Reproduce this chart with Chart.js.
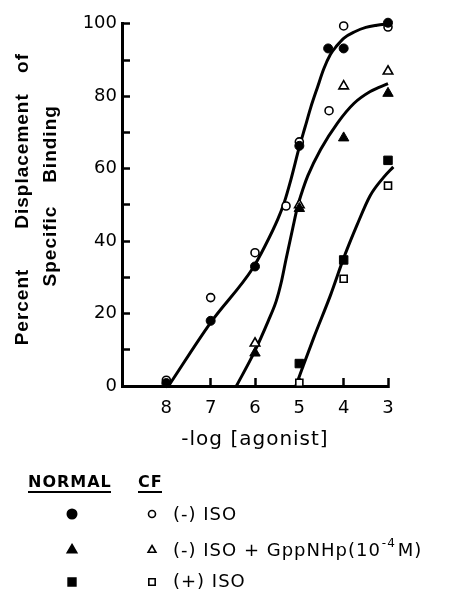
<!DOCTYPE html>
<html>
<head>
<meta charset="utf-8">
<script src="https://cdn.jsdelivr.net/npm/chart.js@4.4.1/dist/chart.umd.min.js"></script>
<style>
  body { margin: 0; background: #fff; }
  #wrap { width: 458px; height: 596px; }
</style>
</head>
<body>
<div id="wrap"><canvas id="grafico" width="458" height="596"></canvas></div>
<script>
// eixos
const xTicks = [8, 7, 6, 5, 4, 3];
const yTicks = [0, 20, 40, 60, 80, 100];
const yMinorTicks = [10, 30, 50, 70, 90];

// pontos medidos: (-) ISO
const normalIsoX = [8, 7, 6, 5, 4.35, 4, 3];
const normalIsoY = [0.8, 18, 33, 66.3, 93.2, 93.2, 100.3];
const cfIsoX = [8, 7, 6, 5.3, 5, 4.33, 4, 3];
const cfIsoY = [1.6, 24.4, 36.8, 49.7, 67.4, 76, 99.4, 99.1];

// (-) ISO + GppNHp
const normalGppX = [6, 5, 4, 3];
const normalGppY = [9.1, 49, 68.5, 80.8];
const cfGppX = [6, 5, 4, 3];
const cfGppY = [11.8, 50, 82.8, 86.9];

// (+) ISO
const normalPlusX = [5, 4, 3];
const normalPlusY = [6.2, 34.8, 62.3];
const cfPlusX = [5, 4, 3];
const cfPlusY = [0.9, 29.6, 55.3];

// curvas ajustadas
const fitIsoX = [7.95, 7, 6.05, 5.78, 5.48, 5.34, 5.19, 5.0, 4.87, 4.74, 4.59, 4.45, 4.3, 4.15, 4.0, 3.75, 3.5, 3.25, 3];
const fitIsoY = [0, 17.5, 32.5, 38.5, 46.2, 50.7, 57, 66, 71.5, 77, 82.5, 87.5, 91.5, 94, 96, 97.8, 99, 99.6, 100];
const fitGppX = [6.42, 6.03, 5.7, 5.52, 5.41, 5.3, 5.15, 5.04, 4.92, 4.81, 4.52, 4.14, 3.77, 3.4, 3];
const fitGppY = [0, 9, 18, 23.5, 28.5, 35, 43.5, 49.5, 54.3, 58, 65.3, 72.6, 78, 81.3, 83.5];
const fitPlusX = [5.08, 4.96, 4.67, 4.29, 4.0, 3.7, 3.4, 3.1, 2.88];
const fitPlusY = [0, 4, 13.5, 25.3, 35.3, 44.4, 52.6, 57.6, 60.5];

const pares = (xs, ys) => xs.map((x, i) => ({ x: x, y: ys[i] }));

function marcador(label, xs, ys, estilo, raio, cheio) {
  return {
    type: 'scatter',
    label: label,
    data: pares(xs, ys),
    pointStyle: estilo,
    pointRadius: raio,
    pointBackgroundColor: cheio ? '#000' : '#fff',
    pointBorderColor: '#000',
    pointBorderWidth: cheio ? 1 : 1.6,
    order: 0,
    clip: false
  };
}

function curva(label, xs, ys) {
  return {
    type: 'line',
    label: label,
    data: pares(xs, ys),
    borderColor: '#000',
    borderWidth: 3,
    pointRadius: 0,
    cubicInterpolationMode: 'monotone',
    fill: false,
    order: 1,
    clip: false
  };
}

// textos e legenda desenhados no canvas
const textosPlugin = {
  id: 'textos',
  afterDraw(chart) {
    const ctx = chart.ctx;
    ctx.save();
    ctx.fillStyle = '#000';
    ctx.strokeStyle = '#000';

    // titulo do eixo y (duas linhas, rotacionado)
    ctx.font = 'bold 19px "Liberation Sans"';
    ctx.letterSpacing = '1px';
    ctx.textAlign = 'center';
    ctx.textBaseline = 'alphabetic';
    const palavras = [
      ['Percent', 28, 307], ['Displacement', 28, 161], ['of', 28, 63],
      ['Specific', 56, 246], ['Binding', 56, 144]
    ];
    palavras.forEach(p => {
      ctx.save();
      ctx.translate(p[1], p[2]);
      ctx.rotate(-Math.PI / 2);
      ctx.fillText(p[0], 0, 0);
      ctx.restore();
    });

    // titulo do eixo x
    ctx.font = '20px "DejaVu Sans"';
    ctx.letterSpacing = '1px';
    ctx.fillText('-log [agonist]', 255, 445);

    // legenda
    ctx.textAlign = 'left';
    ctx.font = 'bold 16px "DejaVu Sans"';
    ctx.letterSpacing = '1px';
    ctx.fillText('NORMAL', 28, 487);
    ctx.fillText('CF', 138, 487);
    ctx.lineWidth = 2;
    ctx.beginPath();
    ctx.moveTo(28, 492); ctx.lineTo(111, 492);
    ctx.moveTo(138, 492); ctx.lineTo(162, 492);
    ctx.stroke();

    const linhas = [
      { estilo: 'circle', r1: 4.5, r2: 3.5, y: 514 },
      { estilo: 'triangle', r1: 5.5, r2: 4.5, y: 550 },
      { estilo: 'rect', r1: 5.5, r2: 4.5, y: 582 }
    ];
    linhas.forEach(l => {
      ctx.fillStyle = '#000';
      Chart.helpers.drawPoint(ctx, { pointStyle: l.estilo, radius: l.r1, rotation: 0, borderWidth: 1 }, 72, l.y);
      ctx.fillStyle = '#fff';
      ctx.lineWidth = 1.6;
      Chart.helpers.drawPoint(ctx, { pointStyle: l.estilo, radius: l.r2, rotation: 0, borderWidth: 1.6 }, 152, l.y);
    });

    ctx.fillStyle = '#000';
    ctx.font = '18px "DejaVu Sans"';
    ctx.letterSpacing = '1px';
    ctx.fillText('(-) ISO', 173, 520);
    let x = 173;
    const t1 = '(-) ISO + GppNHp(10';
    ctx.fillText(t1, x, 556);
    x += ctx.measureText(t1).width;
    ctx.font = '12px "DejaVu Sans"';
    ctx.fillText('-4', x + 1, 547);
    x += ctx.measureText('-4').width + 3;
    ctx.font = '18px "DejaVu Sans"';
    ctx.fillText('M)', x, 556);
    ctx.fillText('(+) ISO', 173, 587);

    ctx.restore();
  }
};

const ctx = document.getElementById('grafico').getContext('2d');
new Chart(ctx, {
  data: {
    datasets: [
      marcador('Normal (-) ISO', normalIsoX, normalIsoY, 'circle', 4.5, true),
      marcador('CF (-) ISO', cfIsoX, cfIsoY, 'circle', 4, false),
      marcador('Normal (-) ISO + GppNHp', normalGppX, normalGppY, 'triangle', 6, true),
      marcador('CF (-) ISO + GppNHp', cfGppX, cfGppY, 'triangle', 5.5, false),
      marcador('Normal (+) ISO', normalPlusX, normalPlusY, 'rect', 6, true),
      marcador('CF (+) ISO', cfPlusX, cfPlusY, 'rect', 5, false),
      curva('ajuste (-) ISO', fitIsoX, fitIsoY),
      curva('ajuste GppNHp', fitGppX, fitGppY),
      curva('ajuste (+) ISO', fitPlusX, fitPlusY)
    ]
  },
  options: {
    responsive: false,
    animation: false,
    devicePixelRatio: 1,
    layout: { padding: { top: 19, right: 70, left: 0, bottom: 0 } },
    plugins: { legend: { display: false }, tooltip: { enabled: false } },
    scales: {
      x: {
        type: 'linear',
        position: 'bottom',
        reverse: true,
        min: 3,
        max: 9,
        afterFit: s => { s.height = 210; },
        afterBuildTicks: s => { s.ticks = xTicks.map(v => ({ value: v })); },
        border: { color: '#000', width: 3 },
        grid: { drawOnChartArea: false, tickLength: -8, tickWidth: 2.5, tickColor: '#000' },
        ticks: { color: '#000', font: { family: 'DejaVu Sans', size: 18 }, padding: 20, maxRotation: 0 }
      },
      y: {
        type: 'linear',
        position: 'left',
        min: 0,
        max: 100,
        afterFit: s => { s.width = 122; },
        afterBuildTicks: s => {
          s.ticks = yTicks.concat(yMinorTicks).sort((a, b) => a - b).map(v => ({ value: v }));
        },
        border: { color: '#000', width: 3 },
        grid: { drawOnChartArea: false, tickLength: -8, tickWidth: 2.5, tickColor: '#000' },
        ticks: {
          color: '#000',
          font: { family: 'DejaVu Sans', size: 18 },
          padding: 13,
          callback: v => yTicks.includes(v) ? String(v) : ''
        }
      }
    }
  },
  plugins: [textosPlugin]
});
</script>
</body>
</html>
